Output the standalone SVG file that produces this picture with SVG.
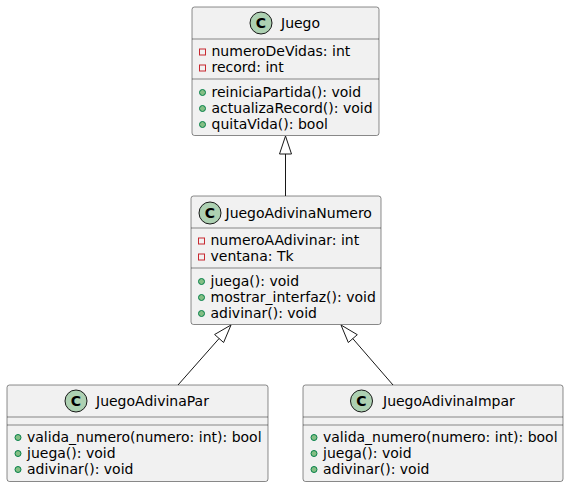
<svg xmlns="http://www.w3.org/2000/svg" width="570" height="487" viewBox="0 0 570 487">
<style>
.box{fill:#F1F1F1;stroke:#181818;stroke-width:0.5}
.sep{stroke:#181818;stroke-width:0.5}
.ci{fill:#ADD1B2;stroke:#181818;stroke-width:1}
.cl{font-family:"DejaVu Sans",sans-serif;font-size:14px;font-weight:bold;fill:#000;text-anchor:middle}
.nm{font-family:"DejaVu Sans",sans-serif;font-size:14px;fill:#000}
.mb{font-family:"DejaVu Sans",sans-serif;font-size:14px;fill:#000}
.pv{fill:none;stroke:#C82930;stroke-width:1}
.pb{fill:#84BE84;stroke:#038048;stroke-width:1}
.ln{stroke:#181818;stroke-width:1;fill:none}
</style>
<rect width="570" height="487" fill="#FFFFFF"/>
<g id="connectors">
<line class="ln" x1="285.5" y1="154" x2="285.5" y2="196"/>
<polygon class="ln" points="285.5,136 279.5,154 291.5,154"/>
<line class="ln" x1="219.1" y1="338.5" x2="178" y2="385"/>
<polygon class="ln" points="231,325 223.6,342.5 214.6,334.5"/>
<line class="ln" x1="352.8" y1="338.6" x2="393" y2="385"/>
<polygon class="ln" points="341,325 348.3,342.5 357.3,334.7"/>
</g>
<g id="Juego">
<rect class="box" x="192" y="7" width="187" height="128.5" rx="2.5"/>
<circle class="ci" cx="261" cy="23" r="11"/>
<text class="cl" x="261" y="28">C</text>
<text class="nm" x="281" y="28">Juego</text>
<line class="sep" x1="192" y1="39" x2="379" y2="39"/>
<rect class="pv" x="199.5" y="49" width="6" height="6"/>
<text class="mb" x="211.5" y="55.5">numeroDeVidas: int</text>
<rect class="pv" x="199.5" y="65" width="6" height="6"/>
<text class="mb" x="211.5" y="71.5">record: int</text>
<line class="sep" x1="192" y1="79" x2="379" y2="79"/>
<circle class="pb" cx="202.5" cy="92.5" r="3"/>
<text class="mb" x="211.5" y="97">reiniciaPartida(): void</text>
<circle class="pb" cx="202.5" cy="108.5" r="3"/>
<text class="mb" x="211.5" y="113">actualizaRecord(): void</text>
<circle class="pb" cx="202.5" cy="124.5" r="3"/>
<text class="mb" x="211.5" y="129">quitaVida(): bool</text>
</g>
<g id="JuegoAdivinaNumero">
<rect class="box" x="191" y="196" width="190" height="128.5" rx="2.5"/>
<circle class="ci" cx="210" cy="213" r="11"/>
<text class="cl" x="210" y="218">C</text>
<text class="nm" x="225.5" y="218">JuegoAdivinaNumero</text>
<line class="sep" x1="191" y1="228" x2="381" y2="228"/>
<rect class="pv" x="198.5" y="238" width="6" height="6"/>
<text class="mb" x="210.5" y="244.5">numeroAAdivinar: int</text>
<rect class="pv" x="198.5" y="254" width="6" height="6"/>
<text class="mb" x="210.5" y="260.5">ventana: Tk</text>
<line class="sep" x1="191" y1="268" x2="381" y2="268"/>
<circle class="pb" cx="201.5" cy="281.5" r="3"/>
<text class="mb" x="210.5" y="286">juega(): void</text>
<circle class="pb" cx="201.5" cy="297.5" r="3"/>
<text class="mb" x="210.5" y="302">mostrar_interfaz(): void</text>
<circle class="pb" cx="201.5" cy="313.5" r="3"/>
<text class="mb" x="210.5" y="318">adivinar(): void</text>
</g>
<g id="JuegoAdivinaPar">
<rect class="box" x="7" y="385" width="261" height="96.5" rx="2.5"/>
<circle class="ci" cx="76" cy="401" r="11"/>
<text class="cl" x="76" y="406">C</text>
<text class="nm" x="96" y="406">JuegoAdivinaPar</text>
<line class="sep" x1="7" y1="417" x2="268" y2="417"/>
<line class="sep" x1="7" y1="425" x2="268" y2="425"/>
<circle class="pb" cx="18" cy="437.5" r="3"/>
<text class="mb" x="27" y="442">valida_numero(numero: int): bool</text>
<circle class="pb" cx="18" cy="453.5" r="3"/>
<text class="mb" x="27" y="458">juega(): void</text>
<circle class="pb" cx="18" cy="469.5" r="3"/>
<text class="mb" x="27" y="474">adivinar(): void</text>
</g>
<g id="JuegoAdivinaImpar">
<rect class="box" x="303" y="385" width="260" height="96.5" rx="2.5"/>
<circle class="ci" cx="361.5" cy="401" r="11"/>
<text class="cl" x="361.5" y="406">C</text>
<text class="nm" x="383" y="406">JuegoAdivinaImpar</text>
<line class="sep" x1="303" y1="417" x2="563" y2="417"/>
<line class="sep" x1="303" y1="425" x2="563" y2="425"/>
<circle class="pb" cx="314" cy="437.5" r="3"/>
<text class="mb" x="323" y="442">valida_numero(numero: int): bool</text>
<circle class="pb" cx="314" cy="453.5" r="3"/>
<text class="mb" x="323" y="458">juega(): void</text>
<circle class="pb" cx="314" cy="469.5" r="3"/>
<text class="mb" x="323" y="474">adivinar(): void</text>
</g>
</svg>
